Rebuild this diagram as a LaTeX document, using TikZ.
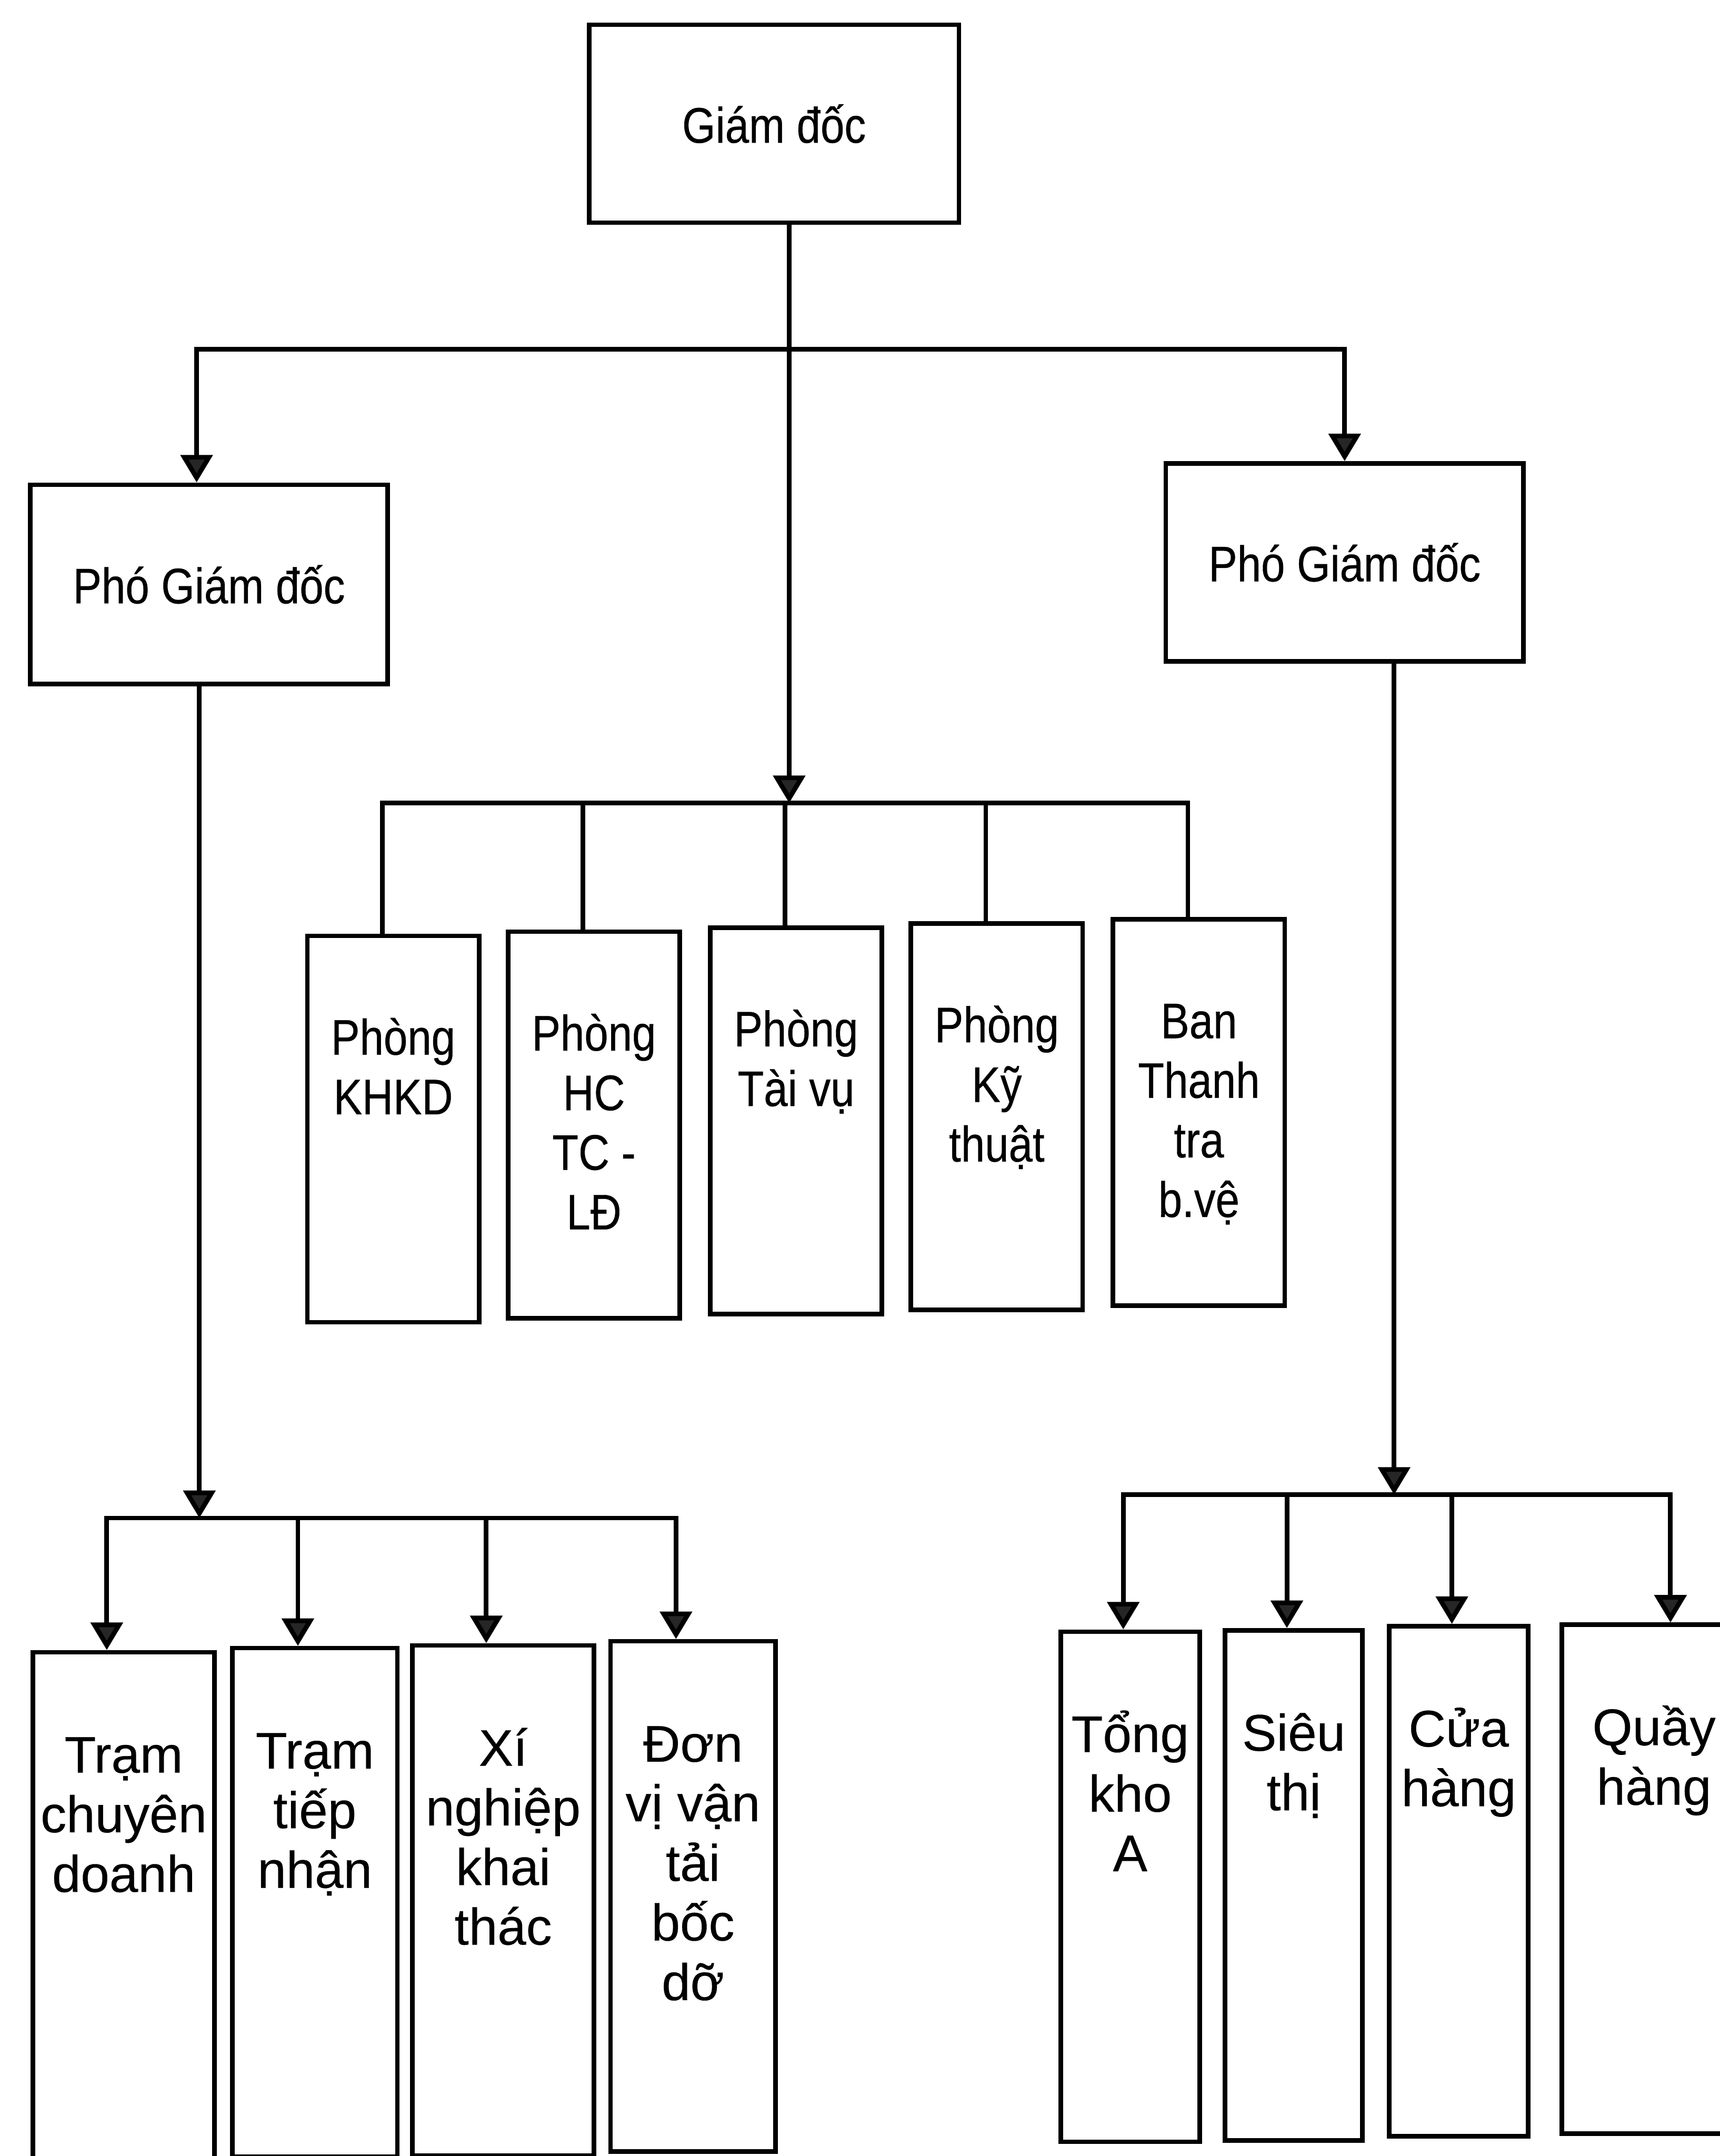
\documentclass[tikz,border=0pt]{standalone}
\usepackage{fontspec}
\setmainfont[FakeBold=0.3]{Liberation Sans}
\newfontfamily\narrowfont[FakeStretch=0.86,FakeBold=0.4]{Liberation Sans}
\usetikzlibrary{arrows.meta}
\newcommand{\capstrut}{\rule{0pt}{1em}}
\begin{document}
\begin{tikzpicture}[x=0.03cm, y=-0.03cm, line width=2.9pt,
  box/.style={draw, line width=2.8pt, inner sep=0pt},
  headbox/.style={box, font=\narrowfont\fontsize{31}{37}\selectfont},
  txt/.style={align=center, inner sep=0pt, anchor=north, font=\fontsize{32}{37}\selectfont},
  ntxt/.style={txt, font=\narrowfont\fontsize{31}{37}\selectfont},
  link/.style={-{Triangle[width=0.69cm, length=0.6cm, fill=black!85]}}]
  \clip (0,0) rectangle (1251,1568);
  % director and deputies
  \node[headbox, minimum width=8.07cm, minimum height=4.32cm] (gd) at (563,90) {Giám đốc};
  \node[headbox, minimum width=7.8cm, minimum height=4.35cm] (pgd1) at (152,425) {Phó Giám đốc};
  \node[headbox, minimum width=7.8cm, minimum height=4.32cm] (pgd2) at (978,409) {Phó Giám đốc};
  % departments
  \node[box, anchor=north, minimum width=3.75cm, minimum height=8.43cm] (d1) at (286,679) {};
  \node[box, anchor=north, minimum width=3.75cm, minimum height=8.43cm] (d2) at (432,676) {};
  \node[box, anchor=north, minimum width=3.75cm, minimum height=8.43cm] (d3) at (579,673) {};
  \node[box, anchor=north, minimum width=3.75cm, minimum height=8.43cm] (d4) at (725,670) {};
  \node[box, anchor=north, minimum width=3.75cm, minimum height=8.43cm] (d5) at (872,667) {};
  \node[ntxt] (td1) at ([yshift=-1.5cm]d1.north) {\capstrut Phòng\\KHKD};
  \node[ntxt] (td2) at ([yshift=-1.5cm]d2.north) {\capstrut Phòng\\HC\\TC -\\LĐ};
  \node[ntxt] (td3) at ([yshift=-1.5cm]d3.north) {\capstrut Phòng\\Tài vụ};
  \node[ntxt] (td4) at ([yshift=-1.5cm]d4.north) {\capstrut Phòng\\Kỹ\\thuật};
  \node[ntxt] (td5) at ([yshift=-1.5cm]d5.north) {\capstrut Ban\\Thanh\\tra\\b.vệ};
  % units under the left deputy
  \node[box, anchor=north, minimum width=3.96cm, minimum height=11.7cm] (s1) at (90,1200) {};
  \node[box, anchor=north, minimum width=3.6cm, minimum height=11.1cm] (s2) at (229,1197) {};
  \node[box, anchor=north, minimum width=3.96cm, minimum height=11.13cm] (s3) at (366,1195) {};
  \node[box, anchor=north, minimum width=3.6cm, minimum height=11.13cm] (s4) at (504,1192) {};
  \node[txt] (ts1) at ([yshift=-1.5cm]s1.north) {\capstrut Trạm\\chuyên\\doanh};
  \node[txt] (ts2) at ([yshift=-1.5cm]s2.north) {\capstrut Trạm\\tiếp\\nhận};
  \node[txt] (ts3) at ([yshift=-1.5cm]s3.north) {\capstrut Xí\\nghiệp\\khai\\thác};
  \node[txt] (ts4) at ([yshift=-1.5cm]s4.north) {\capstrut Đơn\\vị vận\\tải\\bốc\\dỡ};
  % units under the right deputy
  \node[box, anchor=north, minimum width=3.03cm, minimum height=11.13cm] (r1) at (822,1185) {};
  \node[box, anchor=north, minimum width=3.0cm, minimum height=11.13cm] (r2) at (941,1184) {};
  \node[box, anchor=north, minimum width=3.03cm, minimum height=11.13cm] (r3) at (1061,1181) {};
  \node[box, anchor=north, minimum width=4.02cm, minimum height=11.1cm] (r4) at (1203,1180) {};
  \node[txt] (tr1) at ([yshift=-1.5cm]r1.north) {\capstrut Tổng\\kho\\A};
  \node[txt] (tr2) at ([yshift=-1.5cm]r2.north) {\capstrut Siêu\\thị};
  \node[txt] (tr3) at ([yshift=-1.5cm]r3.north) {\capstrut Cửa\\hàng};
  \node[txt] (tr4) at ([yshift=-1.5cm]r4.north) {\capstrut Quầy\\hàng};
  % bus points
  \coordinate (top) at (574,254);
  \coordinate (mid) at (574,584);
  \coordinate (lbus) at (145,1104);
  \coordinate (rbus) at (1014,1087);
  % connectors
  \draw (gd.south -| top) -- (top);
  \draw[link] (top) -- (mid);
  \draw[link] (top) -| ([xshift=-0.27cm]pgd1.north);
  \draw[link] (top) -| (pgd2.north);
  \foreach \d in {d1,d2,d3,d4,d5}
    \draw (mid) -| ([xshift=-0.24cm]\d.north);
  \draw[link] (pgd1.south -| lbus) -- (lbus);
  \foreach \s in {s1,s2,s3,s4}
    \draw[link] (lbus) -| ([xshift=-0.37cm]\s.north);
  \draw[link] (pgd2.south -| rbus) -- (rbus);
  \foreach \r/\dx in {r1/-5,r2/-5,r3/-5,r4/12}
    \draw[link] (rbus) -| ([xshift=\dx*0.03cm]\r.north);
\end{tikzpicture}
\end{document}
